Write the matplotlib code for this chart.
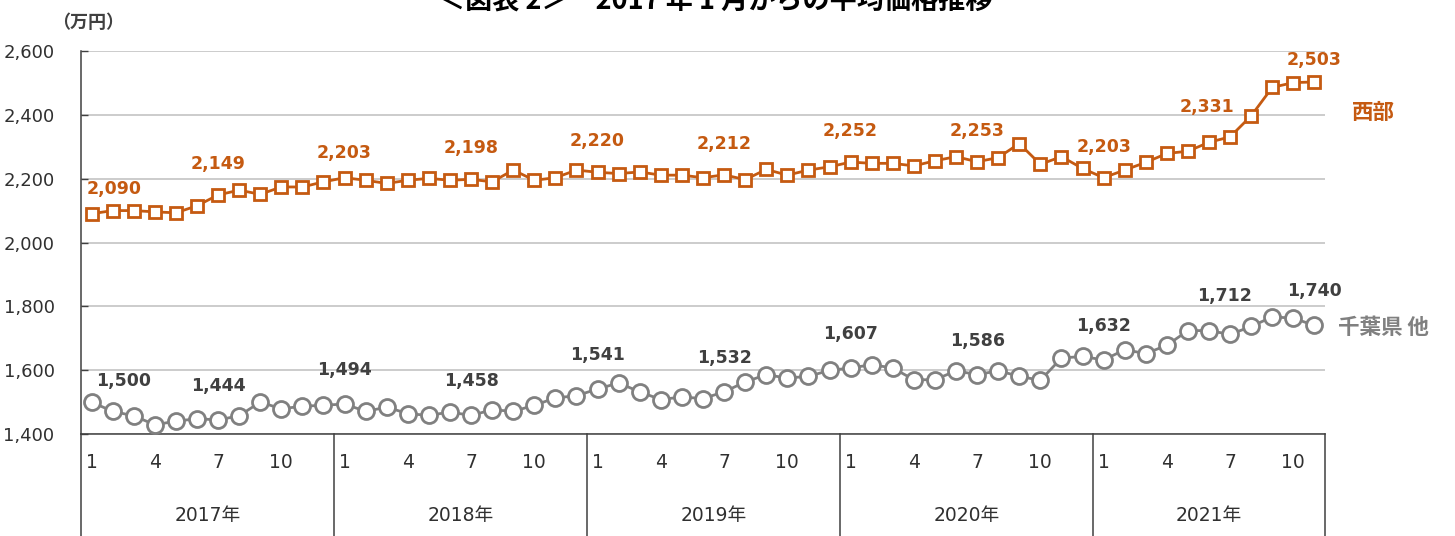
import matplotlib.pyplot as plt
import matplotlib.transforms as mtransforms

plt.rcParams['font.family'] = ['DejaVu Sans', 'Noto Sans CJK JP']

# 2017年1月〜2021年11月の平均価格（万円）
years = ["2017年", "2018年", "2019年", "2020年", "2021年"]
months_per_year = [12, 12, 12, 12, 11]

seibu = [2090, 2100, 2100, 2096, 2093, 2115, 2149, 2164, 2151, 2174, 2174, 2190,
         2203, 2195, 2185, 2195, 2201, 2195, 2198, 2190, 2227, 2195, 2203, 2227,
         2220, 2216, 2221, 2211, 2211, 2203, 2212, 2197, 2229, 2211, 2227, 2237,
         2252, 2248, 2248, 2240, 2256, 2269, 2253, 2266, 2310, 2245, 2269, 2232,
         2203, 2227, 2251, 2279, 2286, 2314, 2331, 2397, 2486, 2501, 2503]

chiba = [1500, 1471, 1457, 1429, 1440, 1448, 1444, 1457, 1500, 1479, 1487, 1490,
         1494, 1471, 1484, 1464, 1458, 1469, 1458, 1476, 1471, 1490, 1513, 1520,
         1541, 1560, 1532, 1508, 1516, 1511, 1532, 1563, 1586, 1575, 1581, 1599,
         1607, 1617, 1607, 1570, 1570, 1598, 1586, 1598, 1581, 1568, 1638, 1643,
         1632, 1664, 1652, 1678, 1724, 1724, 1712, 1737, 1767, 1763, 1740]

# 値を表示する月（インデックス）
label_idx = [0, 6, 12, 18, 24, 30, 36, 42, 48, 54, 58]

months = []
for n in months_per_year:
    months += list(range(1, n + 1))
x = list(range(len(months)))

orange = '#C55A11'
grey = '#808080'
dark = '#404040'

fig = plt.figure(figsize=(14.55, 5.36), dpi=100)
ax = fig.add_axes([81 / 1455, 1 - 434 / 536, 1244 / 1455, 383 / 536])

ax.plot(x, seibu, color=orange, lw=2.0, marker='s', ms=9, mfc='white',
        mec=orange, mew=2.0, zorder=3)
ax.plot(x, chiba, color=grey, lw=2.0, marker='o', ms=11.5, mfc='white',
        mec=grey, mew=2.0, zorder=3)

# データラベル（px単位のずらし）
seibu_off = {0: (23, 25), 12: (0, 25), 54: (-23, 30), 58: (0, 22)}
chiba_off = {0: (32, 21), 54: (-6, 38)}
for i in label_idx:
    dx, dy = seibu_off.get(i, (0, 31))
    ax.annotate(f"{seibu[i]:,}", (x[i], seibu[i]), xytext=(dx * 0.72, dy * 0.72),
                textcoords='offset points', ha='center', va='center',
                fontsize=12.5, fontweight='bold', color=orange, zorder=4)
    dx, dy = chiba_off.get(i, (0, 34))
    ax.annotate(f"{chiba[i]:,}", (x[i], chiba[i]), xytext=(dx * 0.72, dy * 0.72),
                textcoords='offset points', ha='center', va='center',
                fontsize=12.5, fontweight='bold', color=dark, zorder=4)

ax.set_xlim(-0.5, len(x) - 0.5)
ax.set_ylim(1400, 2600)
ax.set_yticks(range(1400, 2601, 200))
ax.set_yticklabels([f"{v:,}" for v in range(1400, 2601, 200)])
ax.tick_params(axis='y', direction='in', length=5, width=1, color='#404040',
               labelsize=13, labelcolor='#303030', pad=19)
ax.set_xticks([])
ax.grid(axis='y', color='#BFBFBF', lw=1.1)
ax.set_axisbelow(True)
for s in ['top', 'right']:
    ax.spines[s].set_visible(False)
for s in ['left', 'bottom']:
    ax.spines[s].set_color('#404040')
    ax.spines[s].set_linewidth(1.1)

# 月・年の区分ラベル
trans = mtransforms.blended_transform_factory(ax.transData, ax.transAxes)
for i, m in zip(x, months):
    if m in (1, 4, 7, 10):
        ax.text(i, -29 / 383, str(m), transform=trans, ha='center', va='center',
                fontsize=13.5, color='#303030')
start = 0
for yr, n in zip(years, months_per_year):
    ax.text(start + n / 2 - 0.5, -81 / 383, yr, transform=trans, ha='center',
            va='center', fontsize=13.5, color='#303030')
    ax.plot([start - 0.5, start - 0.5], [0, -0.3], transform=trans,
            color='#404040', lw=1.1, clip_on=False)
    start += n
ax.plot([start - 0.5, start - 0.5], [0, -0.3], transform=trans,
        color='#404040', lw=1.1, clip_on=False)

# 系列名
tr2 = mtransforms.blended_transform_factory(ax.transAxes, ax.transData)
ax.text(1.0217, 2406, "西部", transform=tr2, ha='left', va='center',
        fontsize=15.5, color=orange, fontweight='bold', family='Noto Sans CJK JP')
ax.text(1.0105, 1735, "千葉県 他", transform=tr2, ha='left', va='center',
        fontsize=15.5, color=grey, fontweight='bold', family='Noto Sans CJK JP')

fig.text(88 / 1455, 1 - 22 / 536, "（万円）", ha='center', va='center',
         fontsize=13, fontweight='bold', color=dark, family='Noto Sans CJK JP')
fig.text(715 / 1455, 1 - 9 / 536, "＜図表 2＞　2017 年 1 月からの平均価格推移",
         ha='center', va='baseline', fontsize=19.5, fontweight='bold',
         color='black', family='Noto Sans CJK JP')

fig.savefig('out.png', dpi=100)
